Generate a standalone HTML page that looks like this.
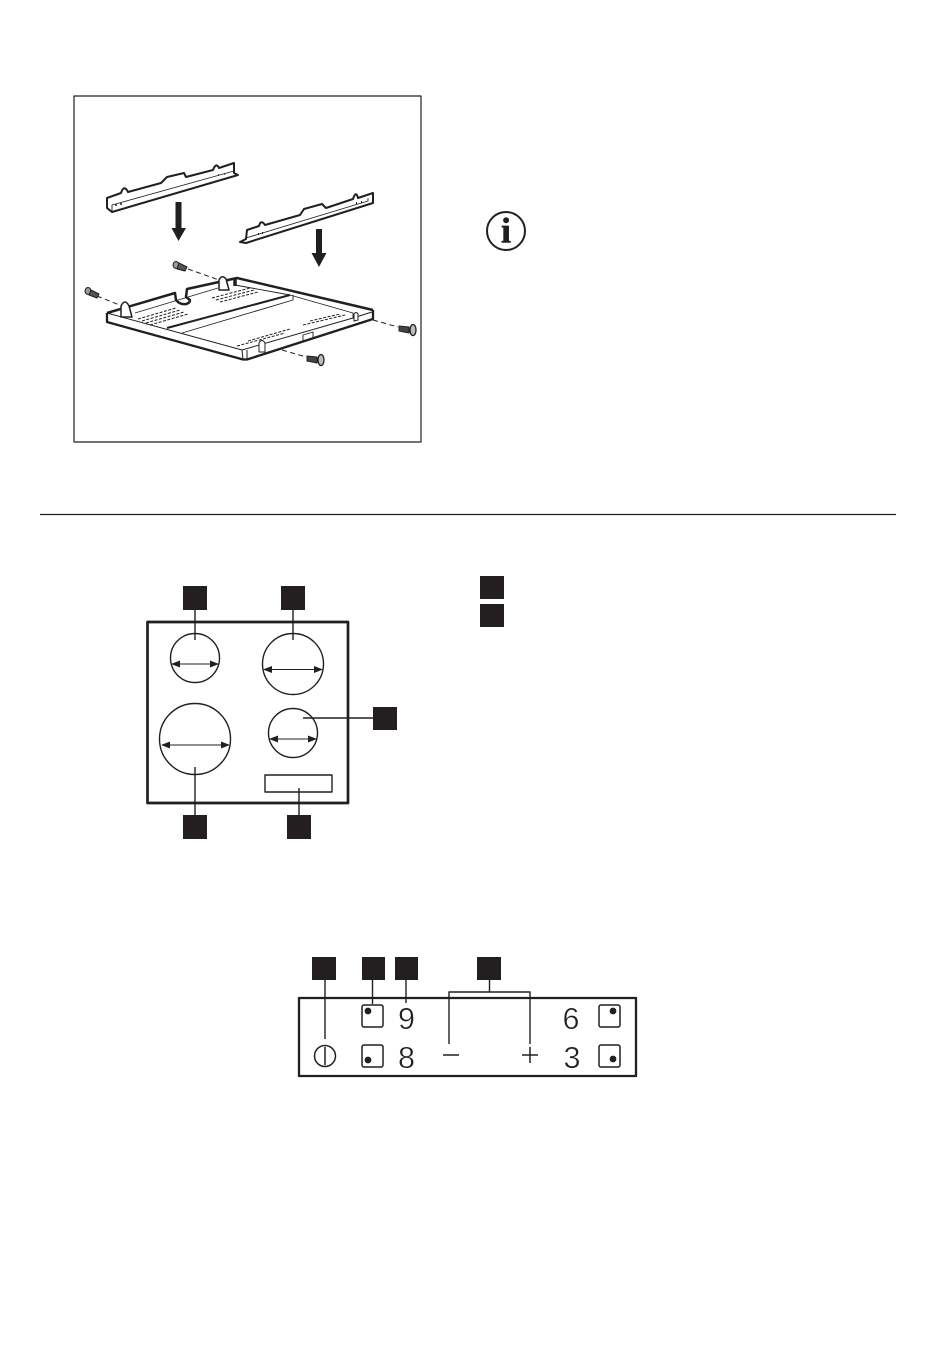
<!DOCTYPE html>
<html><head><meta charset="utf-8"><style>
html,body{margin:0;padding:0;background:#fff}
svg{display:block}
</style></head><body>
<svg width="950" height="1364" viewBox="0 0 950 1364" xmlns="http://www.w3.org/2000/svg" fill="none" stroke="#231f20" stroke-linejoin="round">
<rect width="950" height="1364" fill="#fff" stroke="none"/>
<rect x="74" y="96" width="347" height="346" stroke-width="1.200"/>

<!-- rail 1 -->
<path d="M107 198 L107 208 L112 212 L238 175 L234 173 L234 163 L219 168 Q216 162 213 170 L186 177 L184 173 L167 177 L161 183 L128 192 Q124 184 121 193 Z" fill="#fff" stroke-width="2"/>
<path d="M112 212 L112 205 L234 171" stroke-width=".9"/>
<path d="M116 204v2M121 203v2M218 175h1M224 174h1" stroke-width="1.500"/>
<!-- rail 2 -->
<path d="M240 242 L246 243 L373 203 L373 193 L358 198 Q356 190 353 199 L326 208 L322 204 L304 209 L300 215 L265 225 Q261 219 259 226 L247 230 L246 239 Z" fill="#fff" stroke-width="2"/>
<path d="M246 240 L246 238 L368 201 L368 198" stroke-width=".9"/>
<path d="M258 234h1M262 233h1M356 203h1M361 202h1" stroke-width="2"/>

<!-- arrows -->
<path d="M175.500 202h6v26h4.500L178.500 241L171.500 228h4Z" fill="#231f20" stroke="none"/>
<path d="M316 229h6v24h4.500L319 267L311.500 253h4.500Z" fill="#231f20" stroke="none"/>

<!-- tray -->
<path d="M107 313 L175 293 L177 300 L185 304 L190 300 L186 297 L187 289 L237 278 L373 310 L373 319 L247 359 L243 359 L107 322 Z" fill="#fff" stroke="none"/>
<path d="M107 313 L175 293 L176 300 Q180 305 186 304 Q190 303 190 300 L186 297 L187 289 L237 278 L373 310" stroke-width="2.500"/>
<path d="M107 313 L107 322 L243 359.500 L247 359.500 L373 319 L373 310" stroke-width="2.300"/>
<path d="M107 313 L242 350 L243 359 M247 350 L247 359 M242 350 L353 318 L372 312" stroke-width="1"/>
<path d="M167 328 L290 295" stroke-width="2"/>
<path d="M182 333 L293 300 L293 295 M235 285 L290 295 M290 295 L353 313 L353 318 M135 313 L218 288" stroke-width=".9"/>
<path d="M235 278 v8" stroke-width="3.500"/>
<path d="M262 343 V352 M303 335 V341 L313 338 V332 Z" stroke-width=".9"/>
<path d="M138 319 L176 308 M142 321 L180 310 M146 323 L184 312 M150 325 L188 314 M212 298 L250 288 M216 300 L254 290 M220 302 L258 292 M237 346 L285 333 M248 341 L290 329 M303 325 L345 315 M310 321 L340 314" stroke-width="1" stroke-dasharray="3 1.500"/>
<!-- tray brackets -->
<path d="M121 306 Q125 298 129 306 L132 317 L121 317 Z" fill="#fff" stroke-width="1.500"/>
<path d="M219 280 Q222 274 226 279 L229 290 L219 290 Z" fill="#fff" stroke-width="1.500"/>
<path d="M259 343 Q262 338 265 343 L265 352 L259 352 Z" fill="#fff" stroke-width="1"/>
<path d="M354 314 Q356 311 358 314 L358 320 L354 321 Z" fill="#fff" stroke-width="1"/>

<!-- screws -->
<path d="M188 269 L219 280 M97 296 L122 306 M373 320 L398 327 M282 350 L306 357" stroke-width="1" stroke-dasharray="5 3.500"/>
<g stroke-width="1">
<ellipse cx="176" cy="265" rx="3" ry="3.500" fill="#999"/>
<path d="M179 263 L187 267 L185 271 L177 269 Z" fill="#555"/>
<ellipse cx="88" cy="291" rx="3" ry="3.500" fill="#999"/>
<path d="M91 290 L99 294 L97 298 L89 295 Z" fill="#555"/>
<path d="M399 326 L409 327 L409 333 L399 331 Z" fill="#444"/>
<ellipse cx="413" cy="330" rx="3" ry="5.500" fill="#bbb" stroke-width="1.300"/>
<path d="M307 356 L317 357 L317 363 L307 361 Z" fill="#444"/>
<ellipse cx="321" cy="360" rx="3" ry="5.500" fill="#bbb" stroke-width="1.300"/>
</g>

<!-- info -->
<circle cx="506" cy="231" r="19" stroke-width="2"/>
<text x="506" y="242.500" text-anchor="middle" font-family="'Liberation Serif',serif" font-weight="bold" font-size="36" fill="#231f20" stroke="#231f20" stroke-width=".6">i</text>

<!-- rule -->
<line x1="40" y1="514.500" x2="896" y2="514.500" stroke-width="1.200"/>

<!-- legend -->
<rect x="480" y="576" width="24" height="23" fill="#231f20" stroke="none"/>
<rect x="480" y="604" width="24" height="23" fill="#231f20" stroke="none"/>

<!-- hob -->
<rect x="147.500" y="622" width="200.500" height="181" stroke-width="2.700"/>
<circle cx="195" cy="658" r="24.500" stroke-width="1.400"/>
<circle cx="293" cy="664" r="30.500" stroke-width="1.400"/>
<circle cx="195" cy="739" r="35.500" stroke-width="1.400"/>
<circle cx="293" cy="733" r="24.500" stroke-width="1.400"/>
<g stroke-width="1.100">
<path d="M172 664H218M264 669.500H322M162 745H229M270 739H316"/>
</g>
<g fill="#231f20" stroke="none">
<path d="M171 664l9-3.500v7ZM219 664l-9-3.500v7ZM263 669.500l9-3.500v7ZM323 669.500l-9-3.500v7ZM161 745l9-3.500v7ZM230 745l-9-3.500v7ZM269 739l9-3.500v7ZM317 739l-9-3.500v7Z"/>
</g>
<rect x="265" y="775" width="67" height="17" stroke-width="1.400"/>
<path d="M195 610V640M293 610V640M303 718H373M195 767V815M299 788V815" stroke-width="1.400"/>
<g fill="#231f20" stroke="none">
<rect x="183" y="586" width="24" height="24"/>
<rect x="281" y="586" width="24" height="24"/>
<rect x="373" y="707" width="24" height="23"/>
<rect x="183" y="815" width="24" height="24"/>
<rect x="287" y="815" width="24" height="24"/>
</g>

<!-- control panel -->
<rect x="299" y="998" width="337" height="78" stroke-width="2.300"/>
<g fill="#231f20" stroke="none">
<rect x="312" y="957" width="24" height="23"/>
<rect x="362" y="957" width="23" height="23"/>
<rect x="395" y="957" width="23" height="23"/>
<rect x="477" y="957" width="24" height="23"/>
</g>
<path d="M325 980V1039M372.500 980V1004M406 980V1003M449 1044V992H530V1044M489.500 980V992" stroke-width="1.400"/>
<circle cx="325" cy="1056" r="10.500" stroke-width="1.500"/>
<path d="M325 1047V1065M443 1055H459M522 1055H538M530 1047V1063" stroke-width="1.500"/>
<g stroke-width="1.500">
<rect x="362" y="1005" width="21" height="22" rx="2"/>
<rect x="362" y="1045" width="21" height="22" rx="2"/>
<rect x="599" y="1005" width="21" height="22" rx="2"/>
<rect x="599" y="1045" width="21" height="22" rx="2"/>
</g>
<g fill="#231f20" stroke="none">
<circle cx="368" cy="1011" r="3.400"/>
<circle cx="368" cy="1060" r="3.400"/>
<circle cx="613" cy="1011" r="3.400"/>
<circle cx="613" cy="1059" r="3.400"/>
</g>
<g font-family="'Liberation Sans',sans-serif" font-size="31" fill="#231f20" stroke="#fff" stroke-width=".5" style="paint-order:fill stroke">
<text x="398" y="1029" textLength="17" lengthAdjust="spacingAndGlyphs">9</text>
<text x="398" y="1068" textLength="17" lengthAdjust="spacingAndGlyphs">8</text>
<text x="562.500" y="1029" textLength="17" lengthAdjust="spacingAndGlyphs">6</text>
<text x="563.500" y="1068" textLength="17" lengthAdjust="spacingAndGlyphs">3</text>
</g>
</svg>
</body></html>
